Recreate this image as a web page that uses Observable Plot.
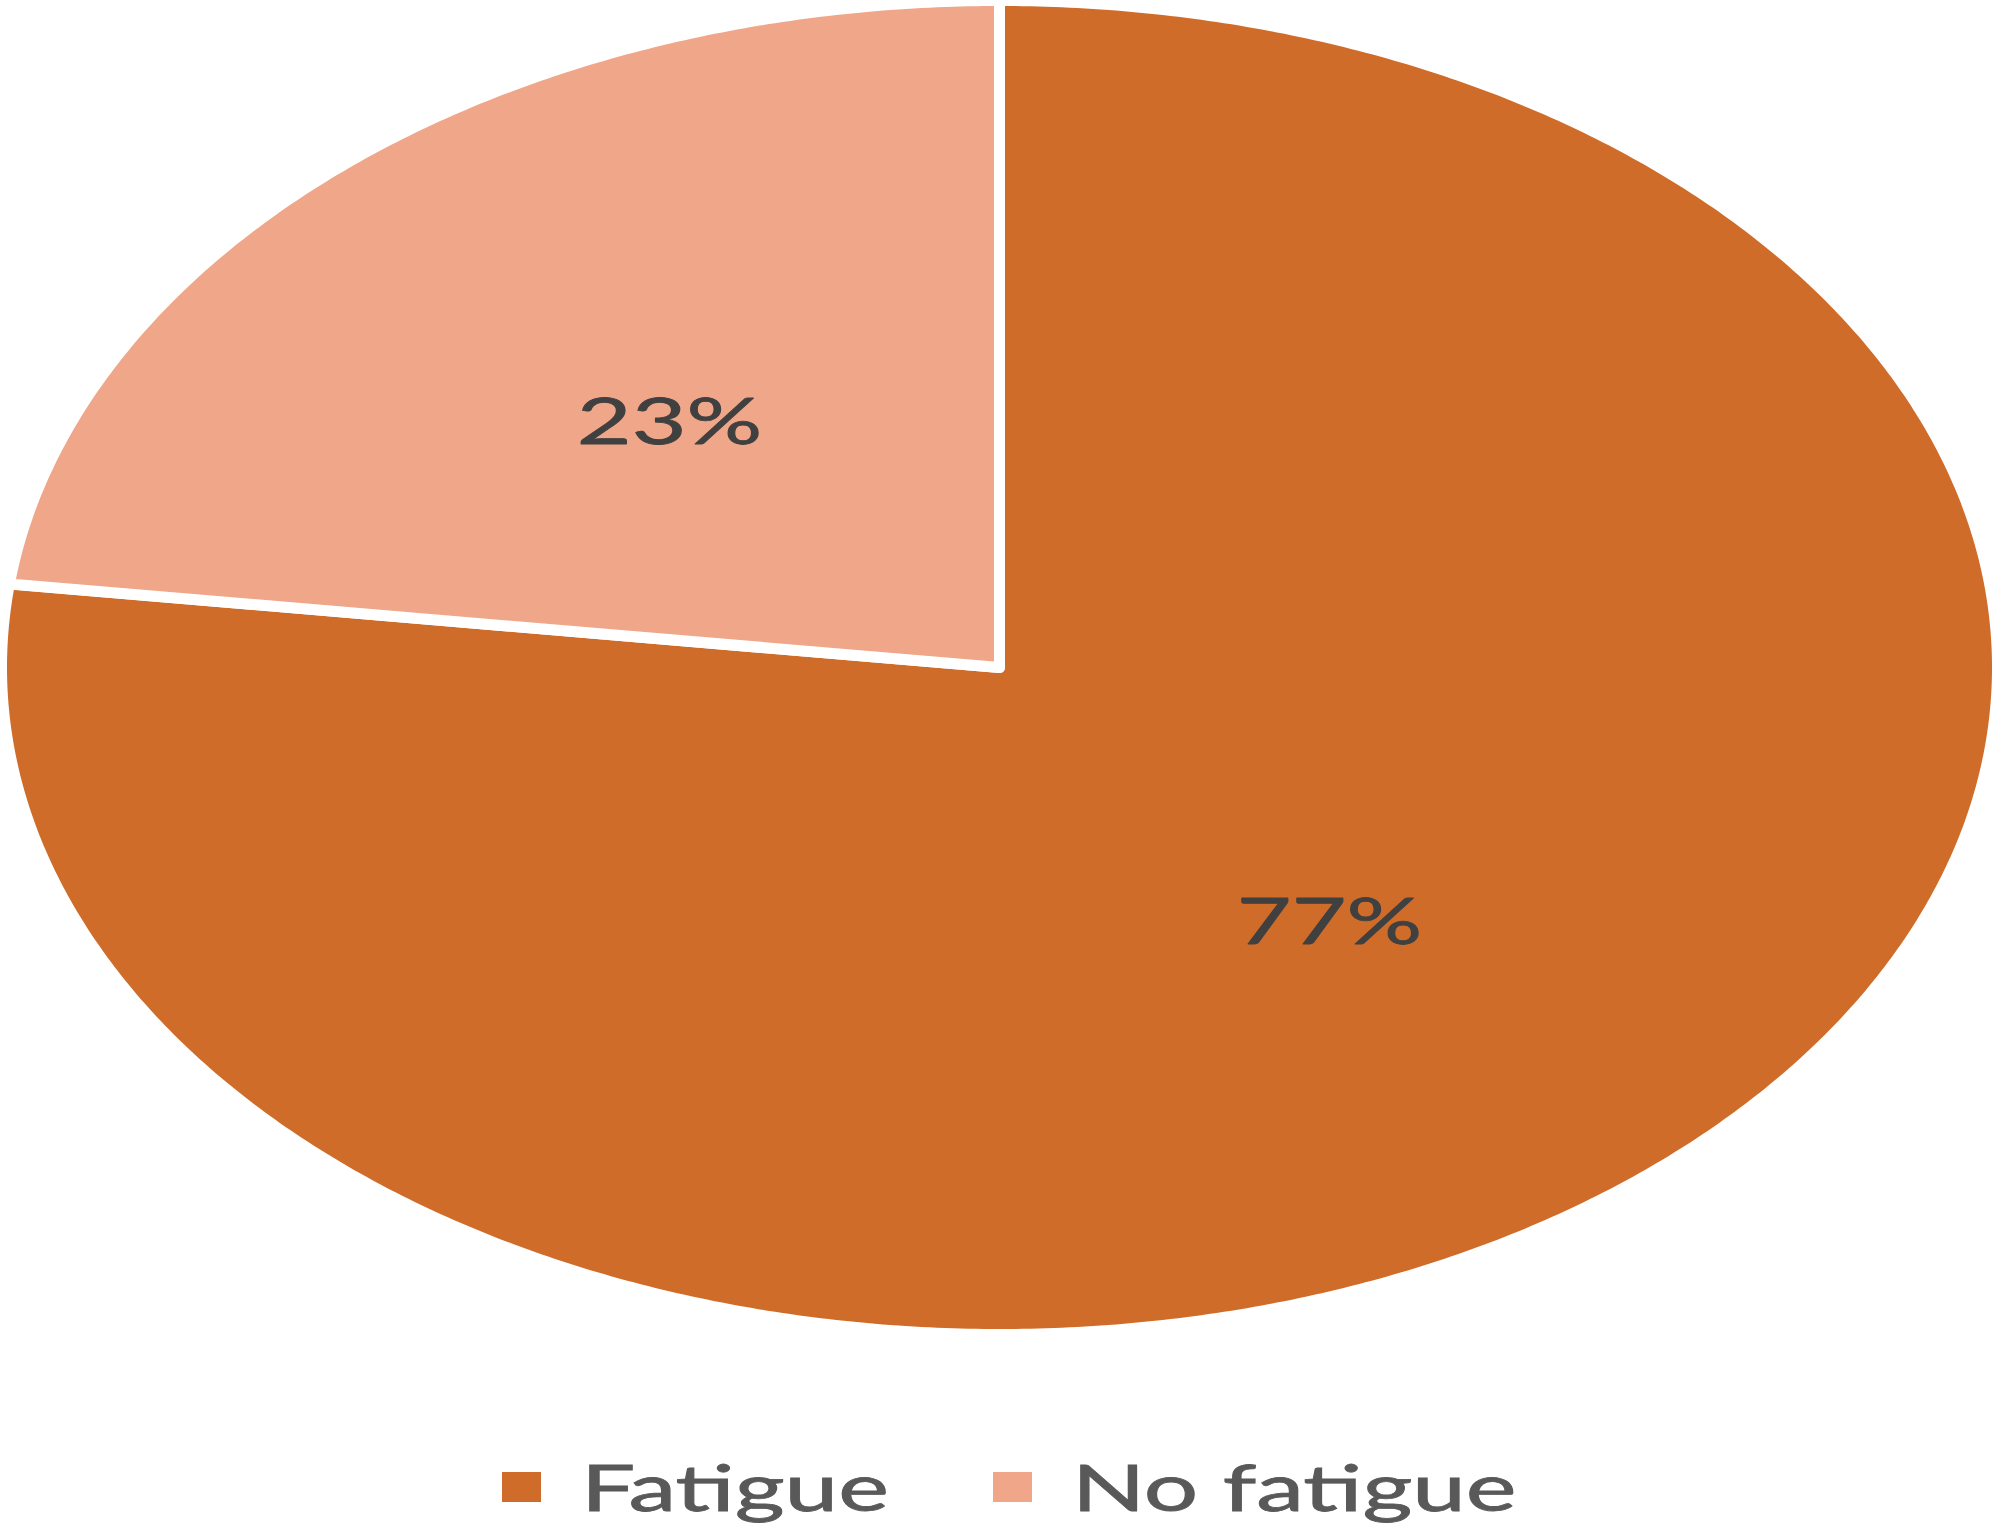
<!DOCTYPE html>
<html>
<head>
<meta charset="utf-8">
<script src="https://cdn.jsdelivr.net/npm/d3@7"></script>
<script src="https://cdn.jsdelivr.net/npm/@observablehq/plot@0.6"></script>
<style>
  html, body { margin: 0; padding: 0; background: #ffffff; }
  body { width: 2000px; height: 1528px; overflow: hidden; font-family: Lato, "Open Sans", sans-serif; }
  #chart svg { display: block; }
  #legend { position: relative; height: 188px; }
  #legend .row { position: absolute; top: 115px; left: 0; width: 2000px; display: flex; justify-content: center; align-items: center; padding-left: 18px; box-sizing: border-box; }
  #legend .item { display: flex; align-items: center; height: 64px; }
  #legend .item + .item { margin-left: 104px; }
  #legend .sw { width: 39px; height: 30px; margin-right: 40px; }
  #legend .lbwrap { display: inline-block; height: 64px; }
  #legend .lb { display: inline-block; font-size: 64px; line-height: 64px; color: #595959; -webkit-text-stroke: 0.8px #595959; transform: scaleX(1.5); transform-origin: 0 50%; white-space: nowrap; }
</style>
</head>
<body>
<div id="chart"></div>
<div id="legend"></div>
<script>
// ---- data ----
const categories = ["Fatigue", "No fatigue"];
const values = [77, 23];
const labels = ["77%", "23%"];
const colors = ["#D06C29", "#F0A688"];

// ---- geometry built from the values ----
const table = categories.map((c, i) => ({category: c, value: values[i], label: labels[i]}));
const arcs = d3.pie().sort(null).value(d => d.value).startAngle(0).endAngle(2 * Math.PI)(table);

const outline = [];
const labelRows = [];
for (const a of arcs) {
  const c = a.data.category;
  outline.push({category: c, x: 0, y: 0});
  const n = Math.max(2, Math.ceil((a.endAngle - a.startAngle) / (Math.PI / 400)));
  for (let k = 0; k <= n; ++k) {
    const t = a.startAngle + (a.endAngle - a.startAngle) * k / n;
    outline.push({category: c, x: Math.sin(t), y: Math.cos(t)});
  }
  outline.push({category: c, x: 0, y: 0});
  const mid = (a.startAngle + a.endAngle) / 2;
  labelRows.push({category: c, label: a.data.label, x: 0.5 * Math.sin(mid), y: 0.5 * Math.cos(mid)});
}

const plot = Plot.plot({
  width: 2000,
  height: 1340,
  marginLeft: 1,
  marginRight: 3,
  marginTop: 0,
  marginBottom: 6,
  x: {domain: [-1, 1], axis: null},
  y: {domain: [-1, 1], axis: null},
  color: {domain: categories, range: colors},
  style: {background: "transparent", overflow: "visible"},
  marks: [
    Plot.line(outline, {x: "x", y: "y", z: "category", fill: "category", stroke: "#ffffff", strokeWidth: 11, strokeLinejoin: "miter", strokeMiterlimit: 10, curve: "linear"}),
    Plot.text(labelRows, {x: "x", y: "y", dy: 6, text: "label", fontSize: 63, fill: "#404040", stroke: "#404040", strokeWidth: 0.8, fontFamily: "Lato, 'Open Sans', sans-serif", textAnchor: "middle", lineAnchor: "middle"})
  ]
});
document.getElementById("chart").appendChild(plot);

// stretch the label glyphs horizontally like the reference
plot.querySelectorAll("text").forEach(t => {
  if (!t.textContent) return;
  const bb = t.getBBox();
  const cx = bb.x + bb.width / 2;
  const prev = t.getAttribute("transform") || "";
  t.setAttribute("transform", `${prev} translate(${cx},0) scale(1.5,1) translate(${-cx},0)`);
});

// ---- legend ----
const row = document.createElement("div");
row.className = "row";
categories.forEach((c, i) => {
  const item = document.createElement("div");
  item.className = "item";
  const sw = document.createElement("div");
  sw.className = "sw";
  sw.style.background = colors[i];
  const wrap = document.createElement("span");
  wrap.className = "lbwrap";
  const lb = document.createElement("span");
  lb.className = "lb";
  lb.textContent = c;
  wrap.appendChild(lb);
  item.appendChild(sw);
  item.appendChild(wrap);
  row.appendChild(item);
});
document.getElementById("legend").appendChild(row);
row.querySelectorAll(".lbwrap").forEach(w => {
  const lb = w.querySelector(".lb");
  w.style.width = (lb.offsetWidth * 1.5) + "px";
});
</script>
</body>
</html>
